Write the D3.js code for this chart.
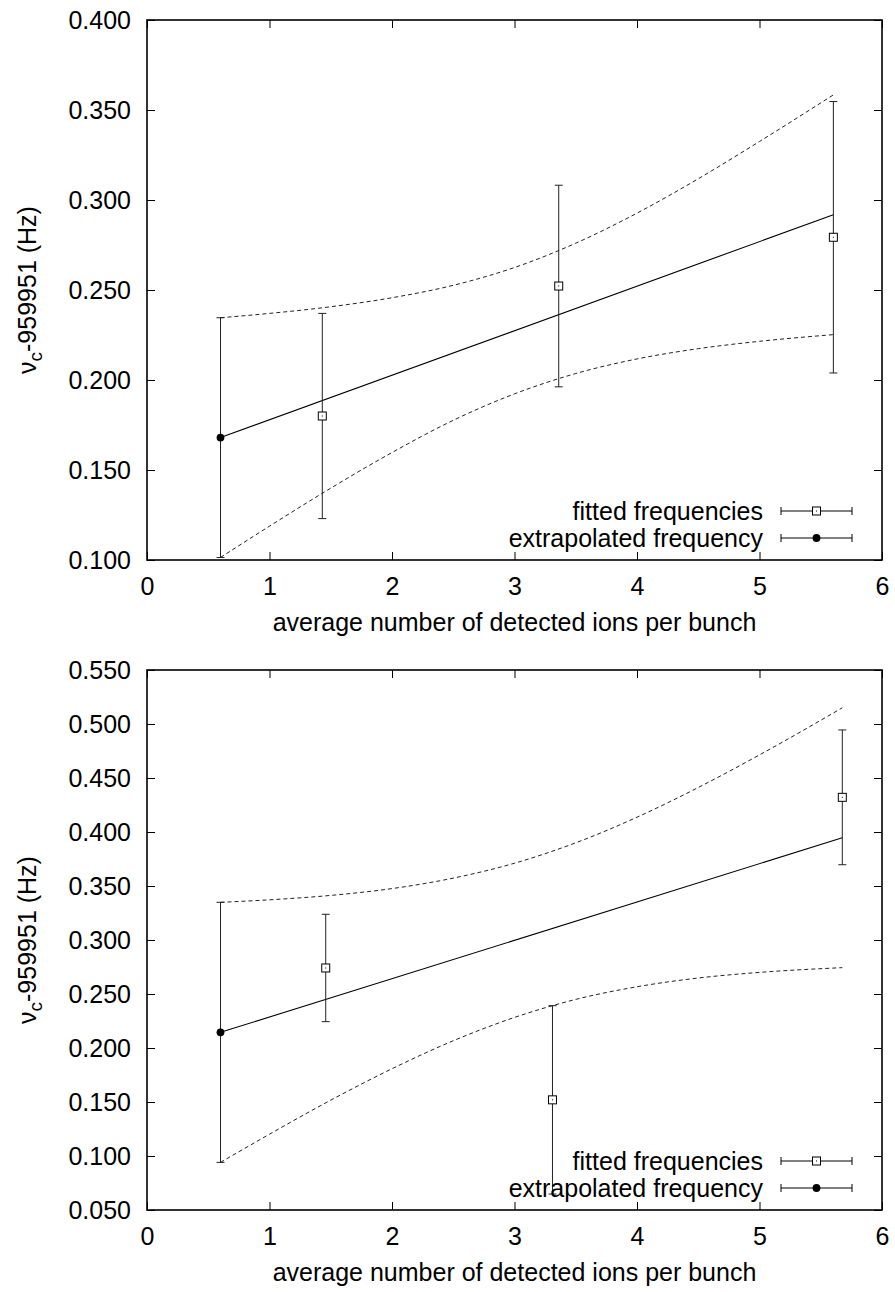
<!DOCTYPE html>
<html>
<head>
<meta charset="utf-8">
<script src="https://cdn.jsdelivr.net/npm/d3@7"></script>
<style>
  body { margin: 0; background: #fff; }
  svg { display: block; }
  text { font-family: "Liberation Sans", Arial, sans-serif; fill: #000; }
</style>
</head>
<body>
<svg id="chart" width="895" height="1292"></svg>
<script>
// ---------------- data ----------------
const xTicks = [0, 1, 2, 3, 4, 5, 6];

// top panel
const topYTicks = [0.100, 0.150, 0.200, 0.250, 0.300, 0.350, 0.400];
const topFittedX = [1.431, 3.361, 5.603];
const topFittedY = [0.180, 0.2522, 0.2793];
const topFittedErr = [0.057, 0.056, 0.0754];
const topExtrapX = [0.6];
const topExtrapY = [0.168];
const topExtrapErr = [0.0666];
const topFitX = [0.6, 5.603];
const topFitY = [0.168, 0.2918];
const topBandX = [0.6, 1.0, 1.5, 2.0, 2.5, 3.0, 3.5, 4.0, 4.5, 5.0, 5.603];
const topBandUpper = [0.2346, 0.2370, 0.2407, 0.2457, 0.2526, 0.2625, 0.2760, 0.2927, 0.3118, 0.3325, 0.3584];
const topBandLower = [0.1014, 0.1188, 0.1399, 0.1597, 0.1776, 0.1923, 0.2036, 0.2117, 0.2174, 0.2215, 0.2252];

// bottom panel
const botYTicks = [0.050, 0.100, 0.150, 0.200, 0.250, 0.300, 0.350, 0.400, 0.450, 0.500, 0.550];
const botFittedX = [1.459, 3.31, 5.676];
const botFittedY = [0.2741, 0.152, 0.4321];
const botFittedErr = [0.0497, 0.0872, 0.0624];
const botExtrapX = [0.6];
const botExtrapY = [0.2145];
const botExtrapErr = [0.1204];
const botFitX = [0.6, 5.676];
const botFitY = [0.2145, 0.3947];
const botBandX = [0.6, 1.0, 1.5, 2.0, 2.5, 3.0, 3.5, 4.0, 4.5, 5.0, 5.676];
const botBandUpper = [0.3349, 0.3372, 0.3413, 0.3476, 0.3573, 0.3711, 0.3900, 0.4137, 0.4412, 0.4714, 0.5150];
const botBandLower = [0.0941, 0.1202, 0.1517, 0.1808, 0.2067, 0.2283, 0.2450, 0.2567, 0.2648, 0.2700, 0.2744];

const xLabel = "average number of detected ions per bunch";
const legendLabels = ["fitted frequencies", "extrapolated frequency"];

// ---------------- drawing ----------------
const svg = d3.select("#chart");
const FS = 25;
const left = 147, right = 882;

function panel(cfg, idx) {
  const top = cfg.top, bottom = cfg.bottom;
  const x = d3.scaleLinear().domain([0, 6]).range([left, right]);
  const y = d3.scaleLinear().domain(cfg.yDomain).range([bottom, top]);
  const g = svg.append("g");

  const clipId = "clip" + idx;
  svg.append("clipPath").attr("id", clipId)
    .append("rect").attr("x", left).attr("y", top - 1)
    .attr("width", right - left).attr("height", bottom - top + 2);

  // axes
  const ax = (axis, tr, labels) => {
    const a = g.append("g").attr("transform", tr).call(axis);
    a.select(".domain").remove();
    a.selectAll("line").attr("stroke", "#000").attr("stroke-width", 1);
    a.selectAll("text").style("font-size", FS + "px").attr("fill", "#000");
    if (!labels) a.selectAll("text").remove();
    return a;
  };
  ax(d3.axisLeft(y).tickValues(cfg.yTicks).tickFormat(d3.format(".3f"))
      .tickSizeInner(-8).tickSizeOuter(0).tickPadding(16), `translate(${left},0)`, true);
  ax(d3.axisRight(y).tickValues(cfg.yTicks).tickSizeInner(-8).tickSizeOuter(0),
      `translate(${right},0)`, false);
  ax(d3.axisBottom(x).tickValues(xTicks).tickFormat(d3.format("d"))
      .tickSizeInner(-8).tickSizeOuter(0).tickPadding(17), `translate(0,${bottom})`, true);
  ax(d3.axisTop(x).tickValues(xTicks).tickSizeInner(-8).tickSizeOuter(0),
      `translate(0,${top})`, false);

  // frame
  g.append("rect").attr("x", left).attr("y", top)
    .attr("width", right - left).attr("height", bottom - top)
    .attr("fill", "none").attr("stroke", "#000").attr("stroke-width", 1.6);

  const plot = g.append("g").attr("clip-path", `url(#${clipId})`);

  // confidence band (dashed)
  const band = d3.line().x(d => x(d[0])).y(d => y(d[1])).curve(d3.curveMonotoneX);
  [cfg.bandUpper, cfg.bandLower].forEach(arr => {
    plot.append("path")
      .attr("d", band(cfg.bandX.map((v, i) => [v, arr[i]])))
      .attr("fill", "none").attr("stroke", "#222").attr("stroke-width", 1)
      .attr("stroke-dasharray", "4,3");
  });

  // fit line
  const fl = d3.line().x(d => x(d[0])).y(d => y(d[1]));
  plot.append("path")
    .attr("d", fl(cfg.fitX.map((v, i) => [v, cfg.fitY[i]])))
    .attr("fill", "none").attr("stroke", "#000").attr("stroke-width", 1.1);

  // error bars
  const cap = 4;
  const errBars = (xs, ys, es) => {
    xs.forEach((xv, i) => {
      const px = x(xv), y1 = y(ys[i] + es[i]), y0 = y(ys[i] - es[i]);
      plot.append("line").attr("x1", px).attr("x2", px).attr("y1", y1).attr("y2", y0)
        .attr("stroke", "#222").attr("stroke-width", 1);
      [y1, y0].forEach(yy => plot.append("line")
        .attr("x1", px - cap).attr("x2", px + cap).attr("y1", yy).attr("y2", yy)
        .attr("stroke", "#222").attr("stroke-width", 1));
    });
  };
  errBars(cfg.fittedX, cfg.fittedY, cfg.fittedErr);
  errBars(cfg.extrapX, cfg.extrapY, cfg.extrapErr);

  // markers
  const square = (sel, px, py) => {
    sel.append("rect").attr("x", px - 4).attr("y", py - 4).attr("width", 8).attr("height", 8)
      .attr("fill", "#fff").attr("stroke", "#000").attr("stroke-width", 1);
    sel.append("rect").attr("x", px - 0.5).attr("y", py - 0.5).attr("width", 1).attr("height", 1)
      .attr("fill", "#000");
  };
  cfg.fittedX.forEach((xv, i) => square(plot, x(xv), y(cfg.fittedY[i])));
  cfg.extrapX.forEach((xv, i) => plot.append("circle")
    .attr("cx", x(xv)).attr("cy", y(cfg.extrapY[i])).attr("r", 3.9).attr("fill", "#000"));

  // legend
  const rows = [bottom - 49, bottom - 22];
  legendLabels.forEach((lab, i) => {
    const ry = rows[i];
    g.append("text").attr("x", 763).attr("y", ry).attr("dy", "0.35em")
      .attr("text-anchor", "end").style("font-size", FS + "px").text(lab);
    g.append("line").attr("x1", 781).attr("x2", 852).attr("y1", ry).attr("y2", ry)
      .attr("stroke", "#000").attr("stroke-width", 1);
    [781, 852].forEach(xx => g.append("line").attr("x1", xx).attr("x2", xx)
      .attr("y1", ry - 4).attr("y2", ry + 4).attr("stroke", "#000").attr("stroke-width", 1));
    if (i === 0) square(g, 816.5, ry);
    else g.append("circle").attr("cx", 816.5).attr("cy", ry).attr("r", 3.9).attr("fill", "#000");
  });

  // x label
  g.append("text").attr("x", (left + right) / 2).attr("y", bottom + 71)
    .attr("text-anchor", "middle").style("font-size", FS + "px").text(xLabel);

  // y label
  const yl = g.append("text")
    .attr("transform", `translate(36,${(top + bottom) / 2}) rotate(-90)`)
    .attr("text-anchor", "middle").style("font-size", FS + "px");
  yl.append("tspan").text("ν");
  yl.append("tspan").attr("dy", 6).style("font-size", "19px").text("c");
  yl.append("tspan").attr("dy", -6).text("-959951 (Hz)");
}

panel({
  top: 20, bottom: 560, yDomain: [0.1, 0.4], yTicks: topYTicks,
  fittedX: topFittedX, fittedY: topFittedY, fittedErr: topFittedErr,
  extrapX: topExtrapX, extrapY: topExtrapY, extrapErr: topExtrapErr,
  fitX: topFitX, fitY: topFitY,
  bandX: topBandX, bandUpper: topBandUpper, bandLower: topBandLower
}, 0);

panel({
  top: 670, bottom: 1210, yDomain: [0.05, 0.55], yTicks: botYTicks,
  fittedX: botFittedX, fittedY: botFittedY, fittedErr: botFittedErr,
  extrapX: botExtrapX, extrapY: botExtrapY, extrapErr: botExtrapErr,
  fitX: botFitX, fitY: botFitY,
  bandX: botBandX, bandUpper: botBandUpper, bandLower: botBandLower
}, 1);
</script>
</body>
</html>
